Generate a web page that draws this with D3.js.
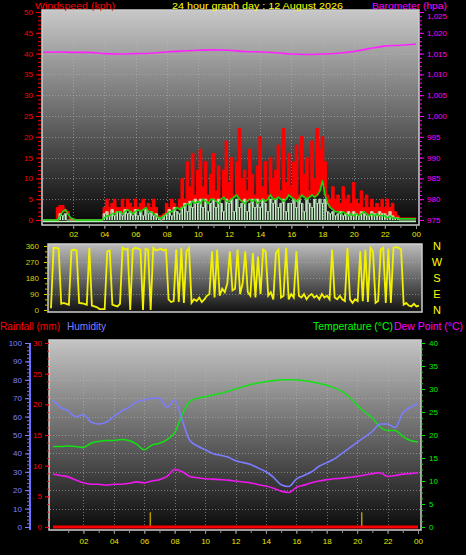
<!DOCTYPE html>
<html><head><meta charset="utf-8">
<script src="https://cdn.jsdelivr.net/npm/d3@7"></script>
<style>body{margin:0;background:#000;overflow:hidden}svg{display:block}</style>
</head><body><svg id="chart" width="466" height="555"></svg>
<script>
// ---------------- DATA ----------------
const timeLabels = ["02","04","06","08","10","12","14","16","18","20","22","00"];
const timeTickHours = [2,4,6,8,10,12,14,16,18,20,22,24];
const windTicks = [0,5,10,15,20,25,30,35,40,45,50];
const baroTicks = [975,980,985,990,995,1000,1005,1010,1015,1020,1025];
const dirTicks = [0,90,180,270,360];
const compassLabels = ["N","E","S","W","N"];
const humTicks = [0,10,20,30,40,50,60,70,80,90,100];
const rainTicks = [0,5,10,15,20,25,30];
const tempTicks = [0,5,10,15,20,25,30,35,40];

// hourly barometer (hPa), 0h..24h
const baro = [1015.3,1015.4,1015.3,1015.3,1015.0,1014.9,1015.0,1015.1,1015.4,1015.6,1015.8,1015.9,1015.8,1015.5,1015.4,1015.2,1014.9,1014.8,1014.9,1015.1,1015.5,1016.2,1016.8,1017.0,1017.3];

// 10-minute wind gust (kph)
const gust = [
 0,0,0,0,0,0,
 3,3.5,3.5,2,2,0,
 0,0,0,0,0,0,
 0,0,0,0,0,0,
 3,5,3,4,5,3,
 3,5,3,5,4,3,
 5,3,4,5,3,4,
 3,5,3,1,1,1.5,
 4,3,5,4,3,5,
 10,5,14,8,16,6,
 12,17,8,14,6,11,
 16,7,13,5,12,19,
 9,15,6,14,22,10,
 12,7,17,11,6,13,
 20,8,14,6,15,10,
 12,18,7,22,9,16,
 8,14,18,6,20,11,
 15,7,19,10,22,17,
 20,14,6,5,8,5,
 6,4,8,5,6,4,
 9,5,4,7,3,6,
 3,5,3,4,3,5,
 3,5,3,4,2,1,
 0.5,0.5,0.5,0.5,0.5,0.5,
 0.5];

// 10-minute average wind speed (kph)
const avgSpeed = [
 0,0,0,0,0,0,
 0,1,2,2.5,1.5,0.5,
 0.3,0,0,0,0,0,
 0,0,0,0,0,0,
 0.5,1,1,1.5,1.5,2,
 2,1.5,2,2.5,2,1.5,
 2,2.5,2,2.5,3,2,
 2,1.5,1,0.5,0.5,1,
 1.5,2,2,2.5,3,2.5,
 3,3.5,4,3.5,4.5,4,
 4.5,4,5,4.5,4,5,
 5,4.5,4,5,5.5,4.5,
 4.5,5,5.5,6,5,4.5,
 4,4.5,5,4.5,5,4,
 4.5,5,4.5,5,6,5,
 5,5.5,5,4.5,5,6,
 5.5,5,4.5,5,6,5.5,
 5,5.5,6,5.5,6,7,
 9.5,6,4,3,2.5,2,
 2,1.5,2,1.5,1,1.5,
 1,1.5,1,1.5,2,1.5,
 1,1.5,1,1.5,1,1,
 1,0.5,1,0.5,0.5,0.3,
 0.3,0.3,0.3,0.3,0.3,0.3,
 0.3];

// 10-minute instantaneous wind speed (kph)
const speed = [
 0,0,0,0,0,0,
 0,1.5,1,1.5,0,0,
 0,0,0,0,0,0,
 0,0,0,0,0,0,
 1.5,2,1,2.5,1,2,
 2,1,2.5,1.5,2,1,
 2.5,1,2,1,2.5,1.5,
 2,1,1.5,0.5,0,1,
 1.5,2.5,1,3,2,1.5,
 3,4,2,4.5,3,5,
 4,5,3,5,2,4,
 5,3,5,4,2,5,
 4,5,2,5,3,4,
 5,2,4,5,3,5,
 3,5,4,2,5,4,
 5,3,4,5,2,4,
 4,5,3,5,4,2,
 5,4,3,5,4,5,
 4,5,2,1.5,2,1,
 1.5,2,1,1.5,2,1,
 2,1.5,1,2,1.5,1,
 1,2,1.5,1,2,1.5,
 1.5,1,2,1,0.5,0.5,
 0,0,0,0,0,0,
 0];

// 10-minute wind direction (degrees)
const windDir = [
 10,350,350,345,35,40,
 35,30,335,340,335,40,
 38,35,30,350,25,20,
 15,5,5,5,330,335,
 30,25,20,35,350,340,
 345,0,340,350,345,340,
 0,345,340,0,350,335,
 340,345,335,340,60,45,
 50,340,45,350,40,330,
 350,40,60,50,70,45,
 60,80,90,330,70,340,
 80,120,100,150,330,110,
 120,340,90,150,330,100,
 80,320,70,300,90,340,
 330,80,100,60,320,340,
 70,80,350,60,90,70,
 330,80,70,90,60,80,
 90,70,80,60,90,70,
 80,60,340,70,60,80,
 60,50,350,60,40,60,
 50,330,50,340,45,350,
 330,40,50,340,350,40,
 345,40,350,355,350,340,
 30,40,25,20,35,20,
 25];

// 30-minute humidity (%), temperature and dew point (°C), rainfall (mm)
const humidity = [69,65,63,60,61,57,56,57,60,63,65,68,69,70,70,65,69,58,47,44,42,40,39,38,36,35,34,32,30,27,23,22,26,28,30,33,35,37,40,43,46,49,52,56,56,54,62,65,67];
const temperature = [17.5,17.5,17.6,17.5,17.3,18.2,18.6,18.8,18.8,19.0,18.8,18.0,16.8,17.8,18.2,19.0,20.5,24.5,27.3,28.0,28.3,28.7,29.0,29.5,30.0,30.5,31.0,31.3,31.6,31.8,32.0,32.0,32.0,31.8,31.6,31.2,30.8,30.2,29.5,28.2,26.5,25.0,23.7,21.8,21.0,21.0,19.7,18.8,18.5];
const dewPoint = [11.5,11.2,10.9,10.2,9.6,9.3,9.3,9.1,9.3,9.3,9.5,9.8,9.6,10.0,10.3,11.0,12.5,12.0,11.0,10.7,10.5,10.4,10.3,10.2,10.0,9.8,9.6,9.2,8.9,8.4,7.8,7.5,8.6,9.1,9.6,10.0,10.3,10.5,10.6,10.8,11.0,11.3,11.6,11.8,11.0,11.2,11.5,11.6,11.8];
const rainfall = [0,0,0,0,0,0,0,0,0,0,0,0,0,0,0,0,0,0,0,0,0,0,0,0,0,0,0,0,0,0,0,0,0,0,0,0,0,0,0,0,0,0,0,0,0,0,0,0,0];
const rainRateHours = [6.4, 20.3];
const rainRateValues = [2.4, 2.4];

// ---------------- DRAWING ----------------
const FONT = "'Liberation Sans', Arial, sans-serif";
const svg = d3.select("#chart");
svg.append("rect").attr("width",466).attr("height",555).attr("fill","#000");
const defs = svg.append("defs");
function vgrad(id, c0, c1){
  const g = defs.append("linearGradient").attr("id",id).attr("x1",0).attr("y1",0).attr("x2",0).attr("y2",1);
  g.append("stop").attr("offset",0).attr("stop-color",c0);
  g.append("stop").attr("offset",1).attr("stop-color",c1);
}
vgrad("gTop","#c8c8c8","#060606");
vgrad("gMid","#bcbcbc","#121212");
vgrad("gBot","#c4c4c4","#0a0a0a");

const panels = {
  top:{x:42,y:10,w:377,h:215,g:"gTop"},
  mid:{x:48,y:244,w:374,h:68,g:"gMid"},
  bot:{x:49,y:340,w:372,h:190,g:"gBot"}
};
Object.entries(panels).forEach(([k,p])=>{
  svg.append("rect").attr("x",p.x).attr("y",p.y).attr("width",p.w).attr("height",p.h)
    .attr("fill",`url(#${p.g})`).attr("stroke","#cfcfcf").attr("stroke-width",1.5);
  defs.append("clipPath").attr("id","clip-"+k).append("rect")
    .attr("x",p.x+1).attr("y",p.y+1).attr("width",p.w-2).attr("height",p.h-2);
});

// scales
const xTop = d3.scaleLinear([0,24],[42,416]);
const xMid = d3.scaleLinear([0,24],[51,419]);
const xBot = d3.scaleLinear([0,24],[53,418]);
const yWind = d3.scaleLinear([0,50],[220,12]);
const yBaro = d3.scaleLinear([975,1025],[220,12]);
const yDir = d3.scaleLinear([0,360],[310,246]);
const yHum = d3.scaleLinear([0,100],[527,343]);
const yRain = d3.scaleLinear([0,30],[527,343]);
const yTemp = d3.scaleLinear([0,40],[527,343]);

function grid(panel, xs, ys, xVals, yVals){
  const p = panels[panel];
  const g = svg.append("g").attr("stroke","#b8b8b8").attr("stroke-opacity",0.55)
    .attr("stroke-dasharray","1,2").attr("stroke-width",1);
  yVals.forEach(v=>g.append("line").attr("x1",p.x+1).attr("x2",p.x+p.w-1).attr("y1",Math.round(ys(v))+0.5).attr("y2",Math.round(ys(v))+0.5));
  xVals.forEach(v=>g.append("line").attr("y1",p.y+1).attr("y2",p.y+p.h-1).attr("x1",Math.round(xs(v))+0.5).attr("x2",Math.round(xs(v))+0.5));
}
grid("top", xTop, yWind, d3.range(2,23,2), d3.range(5,50,5));
grid("mid", xMid, yDir, [], [90,180,270]);
grid("bot", xBot, yHum, d3.range(2,23,2), d3.range(10,100,10));

function styleAxis(g, color, size){
  g.select(".domain").remove();
  g.selectAll("line").attr("stroke", color);
  g.selectAll("text").attr("fill", color).attr("font-family", FONT).attr("font-size", size||8);
  return g;
}
function minor(axisGen, tr, vals, color){
  const g = svg.append("g").attr("transform",tr).call(axisGen.tickValues(vals).tickFormat(""));
  g.select(".domain").remove();
  g.selectAll("line").attr("stroke",color);
}

// ---- top panel ----
const tg = svg.append("g").attr("clip-path","url(#clip-top)");
tg.append("path").datum(gust)
  .attr("d", d3.area().x((d,i)=>xTop(i/6)).y0((d,i)=>yWind(avgSpeed[i])).y1(d=>yWind(d)).curve(d3.curveStep))
  .attr("fill","#ff0000").attr("stroke","#ff0000").attr("stroke-width",1);
tg.selectAll("rect.spd").data(speed).join("rect").attr("class","spd")
  .attr("x",(d,i)=>xTop(i/6)-0.8).attr("width",1.6)
  .attr("y",d=>yWind(d)).attr("height",d=>yWind(0)-yWind(d))
  .attr("fill","#c8f0c8");
tg.append("path").datum(speed)
  .attr("d", d3.line().x((d,i)=>xTop(i/6)).y(d=>yWind(d)).curve(d3.curveStep))
  .attr("fill","none").attr("stroke","#c8f0c8").attr("stroke-width",0.8);
tg.append("line").attr("x1",xTop(0)).attr("x2",xTop(24)).attr("y1",yWind(0)+1.5).attr("y2",yWind(0)+1.5)
  .attr("stroke","#b8f0b8").attr("stroke-width",1.5);
tg.append("path").datum(avgSpeed)
  .attr("d", d3.line().x((d,i)=>xTop(i/6)).y(d=>yWind(d)))
  .attr("fill","none").attr("stroke","#10dd10").attr("stroke-width",1.5);
tg.append("path").datum(baro)
  .attr("d", d3.line().x((d,i)=>xTop(i)).y(d=>yBaro(d)).curve(d3.curveMonotoneX))
  .attr("fill","none").attr("stroke","#ff22ff").attr("stroke-width",1.6);

// axes top
minor(d3.axisLeft(yWind).tickSize(3), "translate(41,0)", d3.range(0,51,1), "#ff0000");
styleAxis(svg.append("g").attr("transform","translate(41,0)")
  .call(d3.axisLeft(yWind).tickValues(windTicks).tickSize(5).tickPadding(3)), "#ff0000");
minor(d3.axisRight(yBaro).tickSize(2), "translate(420,0)", d3.range(975,1026,1), "#ff00ff");
const baroAxis = styleAxis(svg.append("g").attr("transform","translate(420,0)")
  .call(d3.axisRight(yBaro).tickValues(baroTicks).tickSize(4).tickPadding(3)), "#ff00ff");
baroAxis.selectAll("text").filter(d=>d===1025).attr("dy","0.76em");
minor(d3.axisBottom(xTop).tickSize(2), "translate(0,226)", d3.range(1,24,1), "#909090");
const xtA = styleAxis(svg.append("g").attr("transform","translate(0,226)")
  .call(d3.axisBottom(xTop).tickValues(timeTickHours).tickFormat((d,i)=>timeLabels[i]).tickSize(3).tickPadding(2)), "#e8e800");
xtA.selectAll("line").attr("stroke","#909090");

// ---- middle panel ----
const mg = svg.append("g").attr("clip-path","url(#clip-mid)");
mg.append("path").datum(windDir)
  .attr("d", d3.line().x((d,i)=>xMid(i/6)).y(d=>yDir(d)))
  .attr("fill","none").attr("stroke","#f2f200").attr("stroke-width",1.8);
minor(d3.axisLeft(yDir).tickSize(2), "translate(47,0)", d3.range(0,361,30), "#c8c800");
styleAxis(svg.append("g").attr("transform","translate(47,0)")
  .call(d3.axisLeft(yDir).tickValues(dirTicks).tickSize(3).tickPadding(5)), "#d4d400");
svg.append("g").selectAll("text").data(compassLabels).join("text")
  .attr("x",437).attr("y",(d,i)=>yDir(dirTicks[i])).attr("dy","0.36em")
  .attr("text-anchor","middle").attr("fill","#ffff00")
  .attr("font-family",FONT).attr("font-size",11).text(d=>d);

// ---- bottom panel ----
const bg = svg.append("g").attr("clip-path","url(#clip-bot)");
bg.selectAll("rect.rr").data(rainRateValues).join("rect").attr("class","rr")
  .attr("x",(d,i)=>xBot(rainRateHours[i])-0.75).attr("width",1.5)
  .attr("y",d=>yRain(d)).attr("height",d=>yRain(0)-yRain(d)).attr("fill","#b09a00");
bg.append("path").datum(temperature)
  .attr("d", d3.line().x((d,i)=>xBot(i/2)).y(d=>yTemp(d)).curve(d3.curveMonotoneX))
  .attr("fill","none").attr("stroke","#14e014").attr("stroke-width",1.5);
bg.append("path").datum(humidity)
  .attr("d", d3.line().x((d,i)=>xBot(i/2)).y(d=>yHum(d)).curve(d3.curveMonotoneX))
  .attr("fill","none").attr("stroke","#7c7cff").attr("stroke-width",1.6);
bg.append("path").datum(dewPoint)
  .attr("d", d3.line().x((d,i)=>xBot(i/2)).y(d=>yTemp(d)).curve(d3.curveMonotoneX))
  .attr("fill","none").attr("stroke","#ee18ee").attr("stroke-width",1.6);
bg.append("path").datum(rainfall)
  .attr("d", d3.line().x((d,i)=>xBot(i/2)).y(d=>yRain(d)))
  .attr("fill","none").attr("stroke","#ff0000").attr("stroke-width",3);

// humidity axis
svg.append("line").attr("x1",30).attr("x2",30).attr("y1",yHum(100)).attr("y2",yHum(0)+3)
  .attr("stroke","#7070ff").attr("stroke-width",2);
minor(d3.axisLeft(yHum).tickSize(3), "translate(30,0)", d3.range(0,101,2), "#7070ff");
styleAxis(svg.append("g").attr("transform","translate(30,0)")
  .call(d3.axisLeft(yHum).tickValues(humTicks).tickSize(5).tickPadding(3)), "#8080ff");
// rain axis
minor(d3.axisLeft(yRain).tickSize(2), "translate(49,0)", d3.range(0,30.01,1.25), "#ff0000");
styleAxis(svg.append("g").attr("transform","translate(49,0)")
  .call(d3.axisLeft(yRain).tickValues(rainTicks).tickSize(4).tickPadding(3)), "#ff0000");
// temp axis
minor(d3.axisRight(yTemp).tickSize(2), "translate(421,0)", d3.range(0,40.01,1.25), "#00e000");
styleAxis(svg.append("g").attr("transform","translate(421,0)")
  .call(d3.axisRight(yTemp).tickValues(tempTicks).tickSize(4).tickPadding(4)), "#00ee00");
minor(d3.axisBottom(xBot).tickSize(2), "translate(0,531)", d3.range(1,24,1), "#909090");
const xbA = styleAxis(svg.append("g").attr("transform","translate(0,531)")
  .call(d3.axisBottom(xBot).tickValues(timeTickHours).tickFormat((d,i)=>timeLabels[i]).tickSize(3).tickPadding(4)), "#e8e800");
xbA.selectAll("line").attr("stroke","#909090");

// ---- titles ----
const titles = [
  {t:"Windspeed (kph)", x:35, y:8.8, w:80, c:"#ff0000", s:9.5},
  {t:"24 hour graph day : 12 August 2026", x:172, y:8.8, w:171, c:"#ffff00", s:9.5},
  {t:"Barometer (hpa)", x:372, y:8.8, w:75, c:"#ff00ff", s:9.5},
  {t:"Rainfall (mm)", x:0, y:330, w:60, c:"#ff0000", s:10.5},
  {t:"Humidity", x:67, y:330, w:39, c:"#8080ff", s:10.5},
  {t:"Temperature (°C)", x:313, y:330, w:80, c:"#00ff00", s:10.5},
  {t:"Dew Point (°C)", x:394, y:330, w:69, c:"#ff00ff", s:10.5}
];
svg.append("g").selectAll("text").data(titles).join("text")
  .attr("x",d=>d.x).attr("y",d=>d.y).attr("fill",d=>d.c)
  .attr("font-family",FONT).attr("font-size",d=>d.s)
  .attr("textLength",d=>d.w).attr("lengthAdjust","spacingAndGlyphs")
  .text(d=>d.t);
</script>
</body></html>
